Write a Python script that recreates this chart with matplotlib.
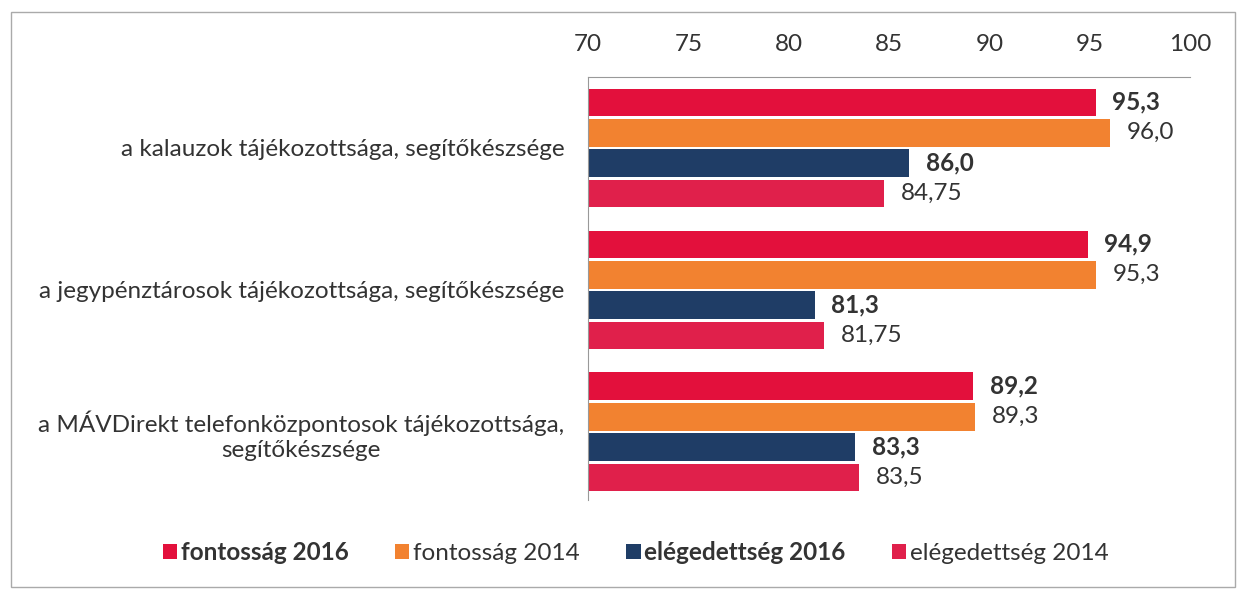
import matplotlib
matplotlib.use('Agg')
import matplotlib.pyplot as plt
from matplotlib.patches import Patch, Rectangle
import numpy as np

plt.rcParams['font.family'] = ['Lato', 'DejaVu Sans']

categories = [
    "a kalauzok tájékozottsága, segítőkészsége",
    "a jegypénztárosok tájékozottsága, segítőkészsége",
    "a MÁVDirekt telefonközpontosok tájékozottsága,\nsegítőkészsége",
]
series_names = ["fontosság 2016", "fontosság 2014", "elégedettség 2016", "elégedettség 2014"]
fontossag_2016 = [95.3, 94.9, 89.2]
fontossag_2014 = [96.0, 95.3, 89.3]
elegedettseg_2016 = [86.0, 81.3, 83.3]
elegedettseg_2014 = [84.75, 81.75, 83.5]
value_labels = [
    ["95,3", "94,9", "89,2"],
    ["96,0", "95,3", "89,3"],
    ["86,0", "81,3", "83,3"],
    ["84,75", "81,75", "83,5"],
]

series = [fontossag_2016, fontossag_2014, elegedettseg_2016, elegedettseg_2014]
colors = ["#E3103C", "#F28230", "#1F3D66", "#E0204B"]
bold = [True, False, True, False]
fs = 17.5

fig = plt.figure(figsize=(12.39, 5.90), dpi=100)
ax = fig.add_axes([0.4746, 0.1525, 0.4859, 0.717])

base = 70
y = np.arange(len(categories))
step = 0.214
h = 0.195
for i, vals in enumerate(series):
    pos = y + (i - 1.5) * step
    ax.barh(pos, np.array(vals) - base, left=base, height=h, color=colors[i])
    for p, v, lab in zip(pos, vals, value_labels[i]):
        ax.annotate(lab, (v, p), xytext=(12, 0), textcoords='offset points',
                    va='center', ha='left', fontsize=fs, color='#333333',
                    fontweight='bold' if bold[i] else 'normal')

ax.set_xlim(70, 100)
ax.set_ylim(2.48, -0.5)
ax.set_xticks(range(70, 101, 5))
ax.xaxis.tick_top()
ax.tick_params(axis='x', length=0, pad=16, labelsize=fs, labelcolor='#333333')
ax.set_yticks(y)
ax.set_yticklabels(categories)
for t in ax.get_yticklabels():
    t.set_multialignment('center')
ax.tick_params(axis='y', length=0, pad=17, labelsize=fs, labelcolor='#333333')

for s in ['right', 'bottom']:
    ax.spines[s].set_visible(False)
ax.spines['top'].set_color('#999999')
ax.spines['left'].set_color('#999999')

handles = [Patch(facecolor=c, edgecolor='none') for c in colors]
leg = fig.legend(handles, series_names, loc='center', bbox_to_anchor=(0.513, 0.063),
                 ncol=4, frameon=False, fontsize=fs, handlelength=0.6, handleheight=0.6,
                 handletextpad=0.15, columnspacing=1.9)
for t, b in zip(leg.get_texts(), bold):
    t.set_color('#333333')
    if b:
        t.set_fontweight('bold')

fig.patches.append(Rectangle((0.009, 0.005), 0.988, 0.975, transform=fig.transFigure,
                             fill=False, edgecolor='#aaaaaa', linewidth=1))

fig.savefig('out.png', dpi=100, facecolor='white')
